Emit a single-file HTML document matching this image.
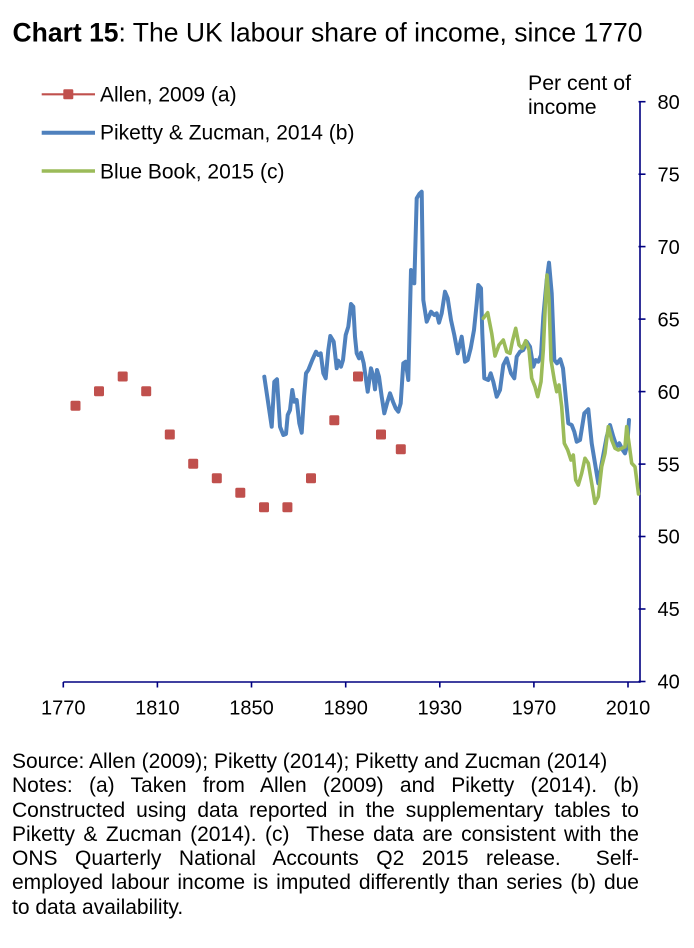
<!DOCTYPE html>
<html>
<head>
<meta charset="utf-8">
<style>
  html, body { margin: 0; padding: 0; background: #ffffff; }
  body { width: 694px; height: 948px; position: relative; overflow: hidden; font-family: "Liberation Sans", Arial, sans-serif; }
  svg { position: absolute; left: 0; top: 0; }
  .notes { position: absolute; left: 12px; top: 750px; width: 627px; font-size: 21px; line-height: 24.3px; color: #000; }
  .notes div { white-space: normal; }
  .j { text-align: justify; text-align-last: justify; }
  .l { text-align: left; }
</style>
</head>
<body>
<svg width="694" height="948" viewBox="0 0 694 948" xmlns="http://www.w3.org/2000/svg" font-family="Liberation Sans, Arial, sans-serif">
  <!-- Title -->
  <text x="12.5" y="41.7" font-size="26.5" fill="#000"><tspan font-weight="bold">Chart 15</tspan>: The UK labour share of income, since 1770</text>

  <!-- Legend -->
  <line x1="41.7" y1="94.3" x2="95" y2="94.3" stroke="#C0504D" stroke-width="2.2"/>
  <rect x="63.3" y="89.3" width="10" height="10" rx="1.2" fill="#C0504D"/>
  <text x="100" y="101.7" font-size="21" fill="#000">Allen, 2009 (a)</text>
  <line x1="41.7" y1="132.7" x2="95" y2="132.7" stroke="#4F81BD" stroke-width="4"/>
  <text x="100" y="139.5" font-size="21" fill="#000">Piketty &amp; Zucman, 2014 (b)</text>
  <line x1="41.7" y1="171" x2="95" y2="171" stroke="#9BBB59" stroke-width="3.5"/>
  <text x="100" y="178.3" font-size="21" fill="#000">Blue Book, 2015 (c)</text>

  <!-- Axis unit label -->
  <text x="528" y="90" font-size="21.3" fill="#000">Per cent of</text>
  <text x="528" y="114" font-size="21.3" fill="#000">income</text>

  <!-- Axes -->
  <g stroke="#000080" stroke-width="1.6" fill="none">
    <line x1="63.3" y1="682" x2="640" y2="682"/>
    <line x1="640" y1="101" x2="640" y2="682.8"/>
    <!-- x ticks -->
    <line x1="63.3" y1="682" x2="63.3" y2="687.5"/>
    <line x1="157.4" y1="682" x2="157.4" y2="687.5"/>
    <line x1="251.5" y1="682" x2="251.5" y2="687.5"/>
    <line x1="345.7" y1="682" x2="345.7" y2="687.5"/>
    <line x1="439.8" y1="682" x2="439.8" y2="687.5"/>
    <line x1="533.9" y1="682" x2="533.9" y2="687.5"/>
    <line x1="628" y1="682" x2="628" y2="687.5"/>
    <!-- y ticks -->
    <line x1="638.5" y1="101.7" x2="645.5" y2="101.7"/>
    <line x1="638.5" y1="174.2" x2="645.5" y2="174.2"/>
    <line x1="638.5" y1="246.6" x2="645.5" y2="246.6"/>
    <line x1="638.5" y1="319.1" x2="645.5" y2="319.1"/>
    <line x1="638.5" y1="391.6" x2="645.5" y2="391.6"/>
    <line x1="638.5" y1="464.1" x2="645.5" y2="464.1"/>
    <line x1="638.5" y1="536.5" x2="645.5" y2="536.5"/>
    <line x1="638.5" y1="609" x2="645.5" y2="609"/>
    <line x1="638.5" y1="681.5" x2="645.5" y2="681.5"/>
  </g>

  <!-- Y labels -->
  <g font-size="20" fill="#000">
    <text x="657.5" y="108.9">80</text>
    <text x="657.5" y="181.4">75</text>
    <text x="657.5" y="253.8">70</text>
    <text x="657.5" y="326.3">65</text>
    <text x="657.5" y="398.8">60</text>
    <text x="657.5" y="471.3">55</text>
    <text x="657.5" y="543.7">50</text>
    <text x="657.5" y="616.2">45</text>
    <text x="657.5" y="688.7">40</text>
  </g>

  <!-- X labels -->
  <g font-size="20" fill="#000" text-anchor="middle">
    <text x="63.3" y="714.5">1770</text>
    <text x="157.4" y="714.5">1810</text>
    <text x="251.5" y="714.5">1850</text>
    <text x="345.7" y="714.5">1890</text>
    <text x="439.8" y="714.5">1930</text>
    <text x="533.9" y="714.5">1970</text>
    <text x="628" y="714.5">2010</text>
  </g>

  <!-- Allen markers -->
  <g fill="#C0504D">
    <rect x="70.5" y="400.8" width="10" height="10" rx="1.5"/>
    <rect x="94" y="386.3" width="10" height="10" rx="1.5"/>
    <rect x="117.7" y="371.5" width="10" height="10" rx="1.5"/>
    <rect x="141.2" y="386.3" width="10" height="10" rx="1.5"/>
    <rect x="164.8" y="429.5" width="10" height="10" rx="1.5"/>
    <rect x="188.2" y="458.8" width="10" height="10" rx="1.5"/>
    <rect x="211.8" y="473.3" width="10" height="10" rx="1.5"/>
    <rect x="235.3" y="487.8" width="10" height="10" rx="1.5"/>
    <rect x="259" y="502.2" width="10" height="10" rx="1.5"/>
    <rect x="282.4" y="502.2" width="10" height="10" rx="1.5"/>
    <rect x="306" y="473.3" width="10" height="10" rx="1.5"/>
    <rect x="329.3" y="415.2" width="10" height="10" rx="1.5"/>
    <rect x="353" y="371.5" width="10" height="10" rx="1.5"/>
    <rect x="376" y="429.5" width="10" height="10" rx="1.5"/>
    <rect x="395.8" y="444.3" width="10" height="10" rx="1.5"/>
  </g>

  <!-- Piketty & Zucman (blue) -->
  <polyline fill="none" stroke="#4F81BD" stroke-width="4" stroke-linejoin="round" stroke-linecap="round"
    points="264.3,376.7 271.7,426.7 274.3,381.7 277,379.3 280,426.7 283.3,435 286,434 287.7,415 290,410 292.3,390 294.3,401.7 296.7,400 299.3,423.3 301.7,432.7 304,396.7 306,373.3 308.3,370 312.3,360 316,351.7 318.3,355 320.7,353.3 323.3,373.3 325.7,378.3 328.3,350 330.3,336 333.7,341.7 336.7,368.3 338.3,360.7 341,366.7 343,360 345.7,335 348.3,326.7 351,304 353.3,306.7 355,336.7 356.7,353.3 359,358.3 361,352.7 363.7,363.3 367.7,391.7 371,368.3 373.3,376.7 375,389.3 377,370 379,376.7 381.7,396.7 384.3,413.3 387,403.3 390,393.3 393,401.7 395.7,408.3 398.3,411.7 400.7,403.3 403.3,363.3 405.7,361.7 408.3,380 411,270 412.7,271.7 414.3,283.3 416.7,198.3 419.3,194 421.7,191.7 423.3,300 426.7,321.7 431,311.7 434.3,315 436.7,313.3 439,322.7 441.7,313.3 445,291.7 447.7,298.3 451,320 454.3,335 457.7,353.3 461.7,336.7 465,361.7 467.7,360 470.7,348.3 474,330 476.7,303.3 478.3,285 481,288.3 482.3,333.3 484.3,378.3 488.3,380 490.7,373.3 493.3,381.7 496.7,396.7 500,390 503.3,365 506.7,358.3 511,373.3 514.3,378.3 516.7,356.7 520,351.7 523.3,350 526.7,341.7 530,346.7 533.3,366.7 535.7,360 538.3,361.7 541,355 543.3,316.7 546.7,280 549,262.7 551.7,293.3 554.3,360 557,363.3 560.3,359.3 563,368.3 565.7,396.7 568.3,423.3 571.7,425 574.3,431.7 576.7,441.7 580,440 584.3,413.3 588.3,409.3 591.7,443.3 595,463.3 598.3,483.3 601.7,463.3 606.7,436.7 610,425 613.3,436.7 616.7,446.7 619.3,443.3 622.7,450 625,453.3 627.3,445 629,420"/>

  <!-- Blue Book (green) -->
  <polyline fill="none" stroke="#9BBB59" stroke-width="3.6" stroke-linejoin="round" stroke-linecap="round"
    points="483.3,318.3 487.7,312.7 491.7,333.3 495,356 499,345 503.3,340 506.7,351.7 510,353.3 512.3,341.7 515.7,328.3 519,345 522.3,348.3 525.7,340.7 529,350 531.7,378.3 535,386.7 537.7,396.7 541,381.7 543.3,350 545.7,296.7 547,275 549,300 551,360 554.3,380 556.7,391.7 559,385 561.7,406.7 564.3,443.3 567.7,450 571,460 573.3,455 575.7,480 578.3,485 581.7,473.3 585,458.3 588.3,463.3 591.7,483.3 595,503.3 598.3,496.7 601.7,466.7 605,453.3 608.3,426.7 611.7,440 615,448.3 618.3,450 621.7,448.3 625,446.7 626.7,426.7 629,443.3 631.7,463.3 635,466.7 638.5,494"/>
</svg>

<div class="notes">
  <div class="l">Source: Allen (2009); Piketty (2014); Piketty and Zucman (2014)</div>
  <div class="j">Notes: (a) Taken from Allen (2009) and Piketty (2014). (b)</div>
  <div class="j">Constructed using data reported in the supplementary tables to</div>
  <div class="j">Piketty &amp; Zucman (2014). (c) &nbsp;These data are consistent with the</div>
  <div class="j">ONS Quarterly National Accounts Q2 2015 release. &nbsp;Self-</div>
  <div class="j">employed labour income is imputed differently than series (b) due</div>
  <div class="l">to data availability.</div>
</div>
</body>
</html>
